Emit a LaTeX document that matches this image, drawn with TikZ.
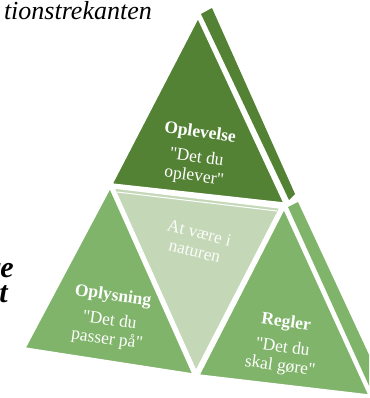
\documentclass[tikz,border=0pt]{standalone}
\usepackage{fontspec}
\setmainfont{Liberation Serif}[Ligatures=TeXOff]
\definecolor{dkg}{HTML}{548235}
\definecolor{mdg}{HTML}{80B46A}
\definecolor{ltg}{HTML}{C4D8B8}
\begin{document}
\begin{tikzpicture}[x=1pt,y=-1pt,
  face/.style={draw=white,line width=1.4pt,line join=round},
  lbl/.style={text=white,align=center,inner sep=0pt,
    font=\fontsize{17.5}{19}\selectfont,rotate=-8},
  side/.style={font=\fontsize{26}{30}\selectfont\itshape,inner sep=0pt}]
\useasboundingbox (0,0) rectangle (369,398);
\clip (0,0) rectangle (369,398);
% top triangle
\coordinate (ta) at (198,18);
\coordinate (tl) at (112,184);
\coordinate (tr) at (284,203);
\fill[dkg] (201,14) -- (212,8) -- (295,194) -- (289,200) -- cycle;
\filldraw[face,fill=dkg] (ta) -- (tl) -- (tr) -- cycle;
% middle inverted triangle
\coordinate (ml) at (114,188);
\coordinate (mr) at (280,208);
\coordinate (mb) at (196,371);
\filldraw[face,fill=ltg] (ml) -- (mr) -- (mb) -- cycle;
\draw[white,line width=1pt] (117,192) -- (277,211);
% left triangle
\coordinate (la) at (110,188);
\coordinate (ll) at (25,348);
\coordinate (lr) at (193,374);
\filldraw[face,fill=mdg] (la) -- (ll) -- (lr) -- cycle;
% right triangle + strip
\coordinate (ra) at (284,209);
\coordinate (rl) at (199,375);
\coordinate (rr) at (369,395);
\fill[mdg] (288,207) -- (298,202) -- (390,400) -- (380,410) -- cycle;
\filldraw[face,fill=mdg] (ra) -- (rl) -- (rr) -- cycle;
% labels
\node[lbl] (top) at (197,155) {\textbf{Oplevelse}\\[6pt]"Det du\\oplever"};
\node[lbl] (left) at (110,318) {\textbf{Oplysning}\\[6pt]"Det du\\passer på"};
\node[lbl] (right) at (283,345) {\textbf{Regler}\\[6pt]"Det du\\skal gøre"};
\node[lbl,rotate=-6,text=white!92!ltg] (mid) at (197,242) {At være i\\naturen};
% clipped side texts
\node[side,anchor=base east] (head) at (152,20) {tionstrekanten};
\node[side,font=\fontsize{30}{32}\selectfont\bfseries\itshape,anchor=base east] (re) at (14,277) {re};
\node[side,font=\fontsize{30}{32}\selectfont\bfseries\itshape,anchor=base east] (tt) at (8,302) {t};
\end{tikzpicture}
\end{document}
